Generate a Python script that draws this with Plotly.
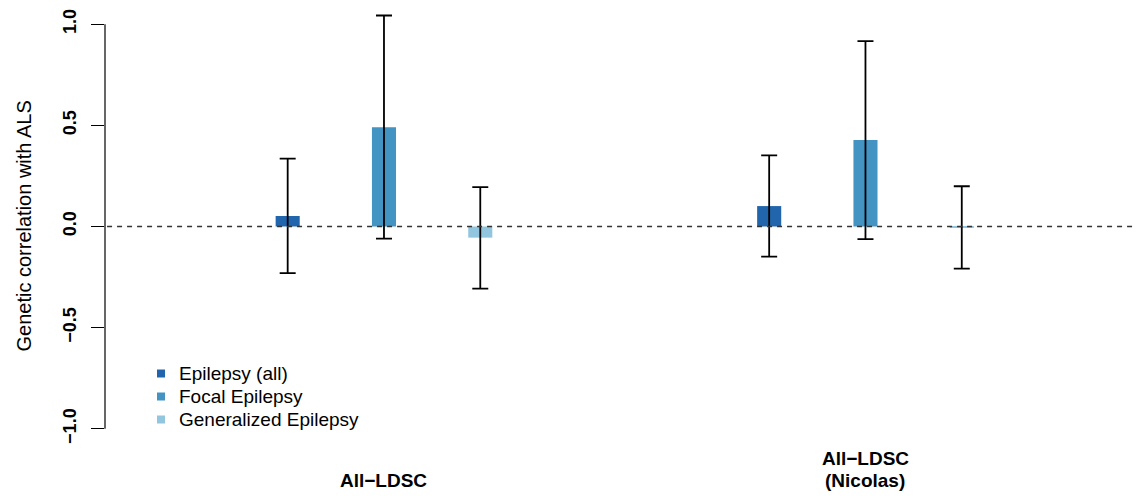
import plotly.graph_objects as go

# ---- data ----
groups = ["All−LDSC", "All−LDSC\n(Nicolas)"]
series = ["Epilepsy (all)", "Focal Epilepsy", "Generalized Epilepsy"]
colors = ["#2166AC", "#4393C3", "#92C5DE"]
rg = [[0.052, 0.490, -0.055],
      [0.101, 0.427, -0.004]]
ci_upper = [[0.335, 1.043, 0.195],
            [0.352, 0.916, 0.199]]
ci_lower = [[-0.230, -0.060, -0.307],
            [-0.149, -0.062, -0.208]]
y_ticks = [-1.0, -0.5, 0.0, 0.5, 1.0]
y_ticktext = ["−1.0", "−0.5", "0.0", "0.5", "1.0"]
y_title = "Genetic correlation with ALS"

# slot positions: 3 bars per group, 2 empty slots between groups
group_start = [0, 5]
bar_width = 0.25

FONT = "Liberation Sans, Arial, Helvetica, sans-serif"

fig = go.Figure()
for si, name in enumerate(series):
    xs = [group_start[g] + si for g in range(len(groups))]
    ys = [rg[g][si] for g in range(len(groups))]
    up = [ci_upper[g][si] - rg[g][si] for g in range(len(groups))]
    dn = [rg[g][si] - ci_lower[g][si] for g in range(len(groups))]
    fig.add_trace(go.Bar(
        x=xs, y=ys, width=bar_width, marker=dict(color=colors[si], line=dict(width=0)),
        error_y=dict(type="data", symmetric=False, array=up, arrayminus=dn,
                     color="black", thickness=1.8, width=8),
        showlegend=False, name=name))

# zero reference line (dashed)
fig.add_shape(type="line", xref="paper", x0=0.002, x1=1, yref="y", y0=0, y1=0,
              line=dict(color="#333333", width=1.3, dash="5px,5px"), layer="above")
# y axis line spanning tick range
fig.add_shape(type="line", xref="paper", x0=0, x1=0, yref="y",
              y0=min(y_ticks), y1=max(y_ticks),
              line=dict(color="black", width=1.2))

# y-axis title
fig.add_annotation(text=y_title, xref="paper", x=0, xanchor="center", xshift=-82,
                   yref="y", y=0, yanchor="middle", textangle=-90, showarrow=False,
                   font=dict(family=FONT, size=20, color="black"))

# group labels (last line aligned at the same baseline)
for g, lab in enumerate(groups):
    xc = group_start[g] + (len(series) - 1) / 2
    lines = lab.split("\n")
    for li, line in enumerate(reversed(lines)):
        fig.add_annotation(text=line, xref="x", x=xc, xanchor="center",
                           yref="paper", y=0, yanchor="middle", yshift=-35 + 22 * li,
                           showarrow=False,
                           font=dict(family=FONT, size=19, color="black", weight="bold"))

# legend (R-style: small squares + labels, tight rows)
leg_top = -365.5   # px offset from top of plot area to first row centre
leg_step = 23
for si, name in enumerate(series):
    yc = leg_top - leg_step * si
    fig.add_shape(type="rect", xref="paper", xsizemode="pixel", xanchor=0,
                  x0=52, x1=60, yref="paper", ysizemode="pixel", yanchor=1,
                  y0=yc - 4, y1=yc + 4,
                  fillcolor=colors[si], line=dict(width=0))
    fig.add_annotation(text=name, xref="paper", x=0, xanchor="left", xshift=72,
                       yref="paper", y=1, yanchor="middle", yshift=yc,
                       showarrow=False,
                       font=dict(family=FONT, size=19, color="black"))

fig.update_layout(
    width=1135, height=488,
    margin=dict(l=97, r=5, t=0, b=51),
    plot_bgcolor="white", paper_bgcolor="white",
    barmode="overlay", showlegend=False,
    font=dict(family=FONT, color="black"),
    xaxis=dict(range=[-1.897, 8.83], showticklabels=False, showgrid=False,
               zeroline=False, showline=False, ticks=""),
    yaxis=dict(range=[-1.08, 1.08], tickvals=y_ticks, ticktext=y_ticktext,
               tickangle=-90, ticks="outside", ticklen=13, tickwidth=1.2,
               tickcolor="black", showgrid=False, zeroline=False, showline=False,
               ticklabelstandoff=8,
               tickfont=dict(family=FONT, size=18, color="black", weight="bold")),
)

fig.write_html("out.html")
